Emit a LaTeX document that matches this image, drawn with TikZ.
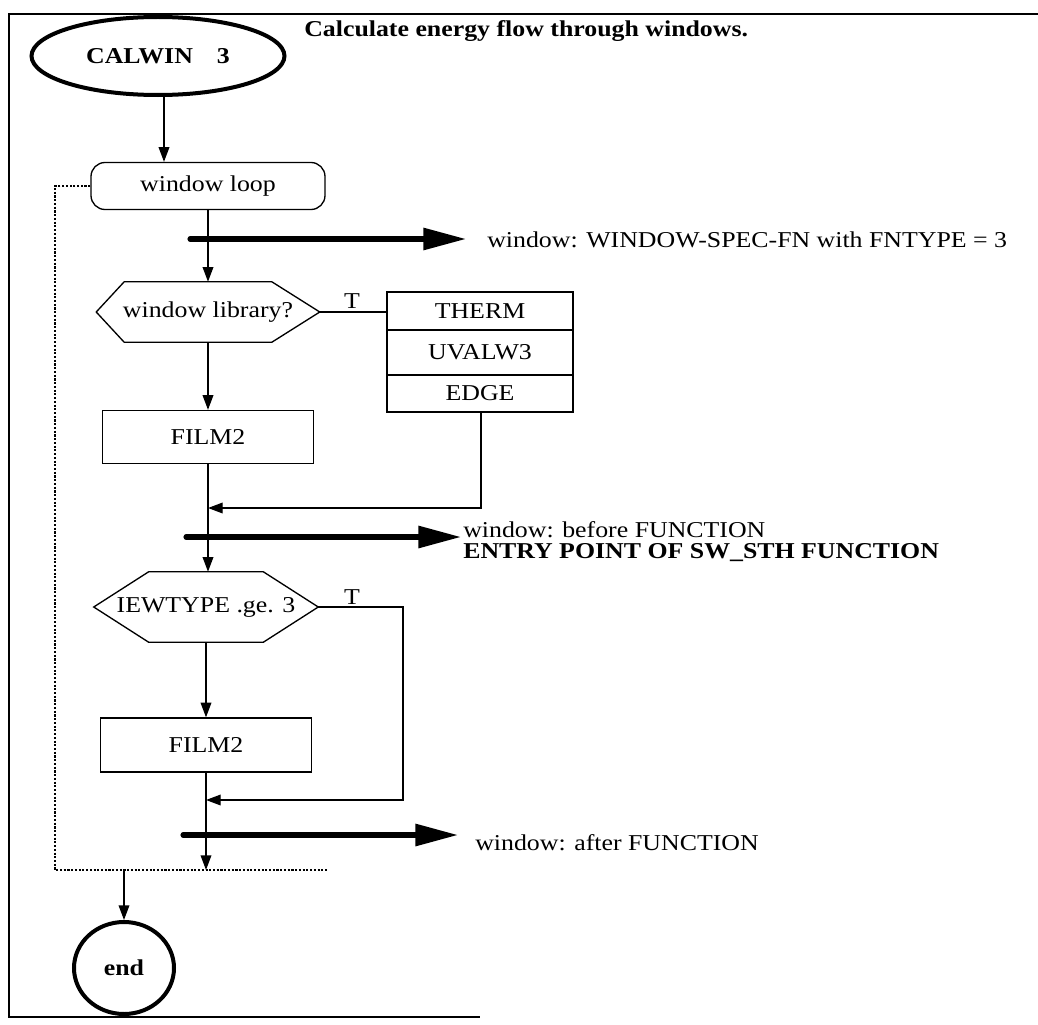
\documentclass[tikz,border=0pt]{standalone}
\usepackage{fontspec}
\setmainfont{Liberation Serif}[FakeStretch=1.14]
\usetikzlibrary{arrows.meta,calc,shapes.geometric}
\newdimen\pxu \pxu=0.75pt
\begin{document}
\begin{tikzpicture}[x=0.75pt,y=-0.75pt,
  font=\fontsize{17}{20}\selectfont,
  line/.style={line width=1pt},
  arr/.style={line width=1pt,-{Triangle[length=11pt,width=8pt]}},
  heavy/.style={line width=3.8pt,line cap=round,-{Triangle[length=32pt,width=16pt]}},
  dotline/.style={line width=1pt,dash pattern=on 1.6pt off 1.2pt},
  boxnode/.style={draw,line width=1pt,minimum width=211\pxu,inner sep=0pt},
  libbox/.style={draw,line width=1pt,minimum width=186\pxu,inner sep=0pt},
  hexnode/.style={inner sep=0pt},
  label/.style={anchor=west,inner sep=0pt}
]
\useasboundingbox (0,0) rectangle (1038,1024);
% frame
\draw[line width=2.2pt] (1038,14) -- (9,14) -- (9,1017) -- (480,1017);

% start
\node[ellipse,draw,line width=3pt,minimum width=253\pxu,minimum height=78\pxu,inner sep=0pt,font=\fontsize{17}{20}\selectfont\bfseries]
  (calwin) at (158,56) {CALWIN\hspace{24\pxu}3};
\node[label,font=\fontsize{17}{20}\selectfont\bfseries] (title) at (304,31) {Calculate energy flow through windows.};

% loop
\node[draw,line width=1pt,rounded corners=14\pxu,minimum width=234\pxu,minimum height=47\pxu,inner sep=0pt]
  (loop) at (208,186) {window loop};
\draw[arr] (calwin.south -| 164,0) -- (164,0 |- loop.north);

% heavy arrow 1
\coordinate (h1s) at (190,239);
\coordinate (h1e) at (466,239);
\node[label] (t1) at (487,240) {window: WINDOW-SPEC-FN with FNTYPE = 3};

% decision 1
\node[hexnode,minimum width=223\pxu,minimum height=60\pxu] (d1) at (208,312) {window library?};
\draw[line] (d1.west) -- ($(d1.north west)+(28,0)$) -- ($(d1.north east)+(-48,0)$) -- (d1.east)
  -- ($(d1.south east)+(-48,0)$) -- ($(d1.south west)+(28,0)$) -- cycle;
\draw[arr] (loop.south) -- (d1.north);
\draw[heavy] (h1s) -- (h1e);

% library stack
\node[libbox,minimum height=38\pxu] (therm) at (480,311) {THERM};
\node[libbox,minimum height=45\pxu] (uvalw) at (480,352.5) {UVALW3};
\node[libbox,minimum height=37\pxu] (edge) at (480,393.5) {EDGE};
\draw[line] (d1.east) -- (d1.east -| therm.west);
\node[anchor=south,inner sep=0pt] (T1) at (352,309) {T};

% FILM2 a
\node[boxnode,minimum height=53\pxu] (filma) at (208,437) {FILM2};
\draw[arr] (d1.south) -- (filma.north);
\coordinate (j1) at (208,508);
\coordinate (e1) at (481,508);
\draw[arr] (edge.south -| e1) -- (e1) -- (j1);

% heavy arrow 2
\coordinate (h2s) at (186,537);
\coordinate (h2e) at (461,537);
\node[label] (t2) at (463,530) {window: before FUNCTION};
\node[label,font=\fontsize{17}{20}\selectfont\bfseries] (t2b) at (463,553) {ENTRY POINT OF SW\_STH FUNCTION};

% decision 2
\node[hexnode,minimum width=224\pxu,minimum height=70\pxu] (d2) at (206,607) {IEWTYPE .ge. 3};
\draw[line] (d2.west) -- ($(d2.north west)+(55,0)$) -- ($(d2.north east)+(-55,0)$) -- (d2.east)
  -- ($(d2.south east)+(-55,0)$) -- ($(d2.south west)+(55,0)$) -- cycle;
\draw[arr] (filma.south) -- (filma.south |- d2.north);
\draw[heavy] (h2s) -- (h2e);
\node[anchor=south,inner sep=0pt] (T2) at (352,605) {T};

% FILM2 b
\node[boxnode,minimum height=54\pxu] (filmb) at (206,745) {FILM2};
\draw[arr] (d2.south) -- (filmb.north);
\coordinate (r2) at (403,607);
\coordinate (r3) at (403,800);
\coordinate (j2) at (206,800);
\draw[arr] (d2.east) -- (r2) -- (r3) -- (j2);

% heavy arrow 3
\coordinate (h3s) at (183,835);
\coordinate (h3e) at (458,835);
\node[label] (t3) at (475,843) {window: after FUNCTION};

% loop end (dotted)
\coordinate (lt) at (55,186);
\coordinate (lb) at (55,870);
\coordinate (lr) at (328,870);
\coordinate (lm) at (206,870);
\draw[dotline] (loop.west) -- (lt) -- (lb) -- (lr);
\draw[arr] (filmb.south) -- (lm);
\draw[heavy] (h3s) -- (h3e);

% end
\node[ellipse,draw,line width=3pt,minimum width=100\pxu,minimum height=92\pxu,inner sep=0pt,font=\fontsize{17}{20}\selectfont\bfseries]
  (endn) at (124,968) {end};
\coordinate (lo) at (124,870);
\draw[arr] (lo) -- (endn.north);
\end{tikzpicture}
\end{document}
